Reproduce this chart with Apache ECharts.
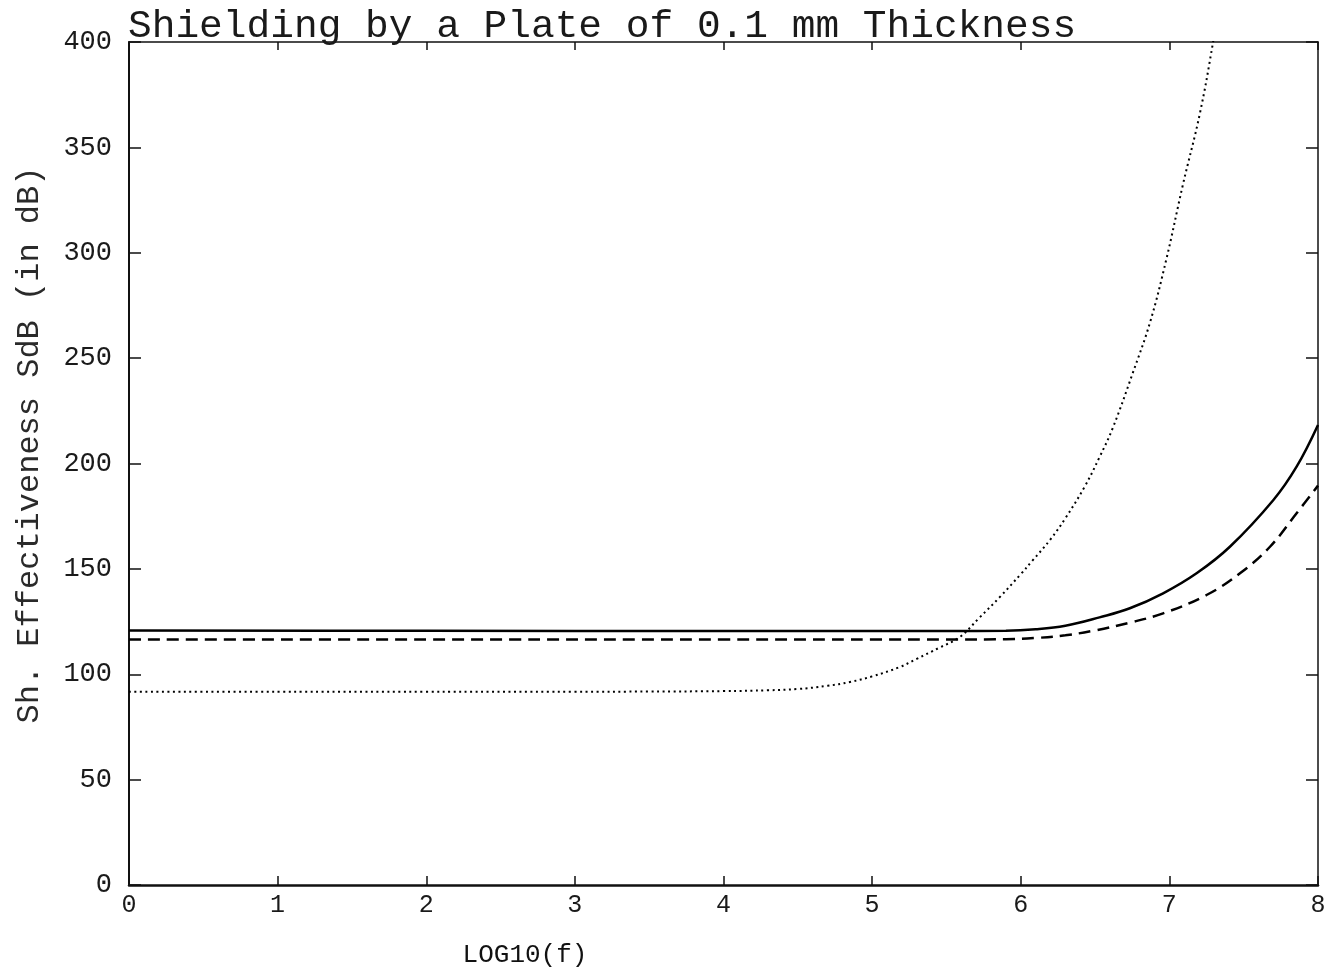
<!DOCTYPE html>
<html>
<head>
<meta charset="utf-8">
<script src="https://cdn.jsdelivr.net/npm/echarts@6/dist/echarts.min.js"></script>
<style>html,body{margin:0;padding:0;background:#fff;}#c{width:1340px;height:970px;}</style>
</head>
<body>
<div id="c"></div>
<script>
// x = LOG10(f), y = shielding effectiveness in dB
var solidX  = [0, 2, 4, 5, 5.5, 5.9, 6.1, 6.3, 6.53, 6.734, 6.958, 7.183, 7.407, 7.70, 7.856, 8];
var solidY  = [120.7, 120.6, 120.5, 120.5, 120.5, 120.6, 121.3, 123, 127, 131.3, 138.4, 147.9, 160.5, 182.7, 198.5, 218.3];

var dashedX = [0, 2, 4, 5, 5.5, 5.9, 6.1, 6.3, 6.5, 6.734, 6.958, 7.25, 7.475, 7.677, 7.856, 8];
var dashedY = [116.5, 116.5, 116.5, 116.5, 116.5, 116.6, 117.2, 118.5, 120.8, 124.5, 128.9, 137.6, 147.9, 160.5, 176.4, 189.5];

var dottedX = [0, 1, 2, 3, 3.5, 4, 4.3, 4.5, 4.7, 4.85, 5.0, 5.185, 5.3, 5.45, 5.59, 5.72, 5.86, 6.0, 6.08, 6.2, 6.3, 6.43, 6.53, 6.62, 6.754, 6.87, 6.98, 7.09, 7.205, 7.293, 7.4];
var dottedY = [91.7, 91.7, 91.7, 91.7, 91.8, 92.0, 92.4, 93.0, 94.5, 96.3, 99.0, 103.4, 107.3, 112.5, 117.7, 126.7, 136.7, 147.5, 154, 164, 174, 189, 203, 217, 243, 267, 297, 332, 366, 399.5, 445];

var xTicks = ['0','1','2','3','4','5','6','7','8'];
var yTicks = ['0','50','100','150','200','250','300','350','400'];

var titleText = 'Shielding by a Plate of 0.1 mm Thickness';
var xName = 'LOG10(f)';
var yName = 'Sh. Effectiveness SdB (in dB)';

function pairs(xs, ys) { return xs.map(function (x, i) { return [x, ys[i]]; }); }

var FONT = '"Liberation Mono", "DejaVu Sans Mono", monospace';
var chart = echarts.init(document.getElementById('c'), null, {renderer: 'canvas'});
chart.setOption({
  backgroundColor: '#fff',
  animation: false,
  title: {
    text: titleText, left: 123, top: 2,
    textStyle: {fontFamily: FONT, fontSize: 39.5, fontWeight: 'normal', color: '#1a1a1a'}
  },
  grid: {left: 129, right: 22, top: 42, bottom: 85, containLabel: false},
  xAxis: [{
    type: 'value', min: 0, max: 8, interval: 1, position: 'bottom',
    axisLine: {show: true, lineStyle: {color: '#111', width: 2.5}},
    axisTick: {show: true, inside: true, length: 9, lineStyle: {color: '#111', width: 1.5}},
    axisLabel: {fontFamily: FONT, fontSize: 25, color: '#1a1a1a', margin: 8,
      formatter: function (v) { return xTicks[Math.round(v)]; }},
    splitLine: {show: false}
  }, {
    type: 'value', min: 0, max: 8, interval: 1, position: 'top',
    axisLine: {show: true, onZero: false, lineStyle: {color: '#111', width: 1.5}},
    axisTick: {show: true, inside: true, length: 8, lineStyle: {color: '#111', width: 1.5}},
    axisLabel: {show: false}, splitLine: {show: false}
  }],
  yAxis: [{
    type: 'value', min: 0, max: 400, interval: 50, position: 'left',
    axisLine: {show: true, lineStyle: {color: '#111', width: 2}},
    axisTick: {show: true, inside: true, length: 12, lineStyle: {color: '#111', width: 1.5}},
    axisLabel: {fontFamily: FONT, fontSize: 27, color: '#1a1a1a', margin: 17,
      formatter: function (v) { return yTicks[Math.round(v / 50)]; }},
    splitLine: {show: false}
  }, {
    type: 'value', min: 0, max: 400, interval: 50, position: 'right',
    axisLine: {show: true, onZero: false, lineStyle: {color: '#111', width: 1.5}},
    axisTick: {show: true, inside: true, length: 12, lineStyle: {color: '#111', width: 1.5}},
    axisLabel: {show: false}, splitLine: {show: false}
  }],
  graphic: [{
    type: 'text', x: 525, y: 955,
    style: {text: xName, font: '26px ' + FONT, fill: '#111', textAlign: 'center', textVerticalAlign: 'middle'}
  }, {
    type: 'text', x: 30, y: 445, rotation: Math.PI / 2,
    style: {text: yName, font: '32px ' + FONT, fill: '#2a2a2a', textAlign: 'center', textVerticalAlign: 'middle'}
  }],
  series: [{
    type: 'line', name: 'solid', data: pairs(solidX, solidY), showSymbol: false, symbol: 'none',
    smooth: 0.4, clip: true,
    lineStyle: {color: '#000', width: 2.5, type: 'solid'}
  }, {
    type: 'line', name: 'dashed', data: pairs(dashedX, dashedY), showSymbol: false, symbol: 'none',
    smooth: 0.4, clip: true,
    lineStyle: {color: '#000', width: 2.5, type: [12, 7]}
  }, {
    type: 'line', name: 'dotted', data: pairs(dottedX, dottedY), showSymbol: false, symbol: 'none',
    smooth: 0.4, clip: true,
    lineStyle: {color: '#000', width: 2, type: [2, 3.5]}
  }]
});
</script>
</body>
</html>
